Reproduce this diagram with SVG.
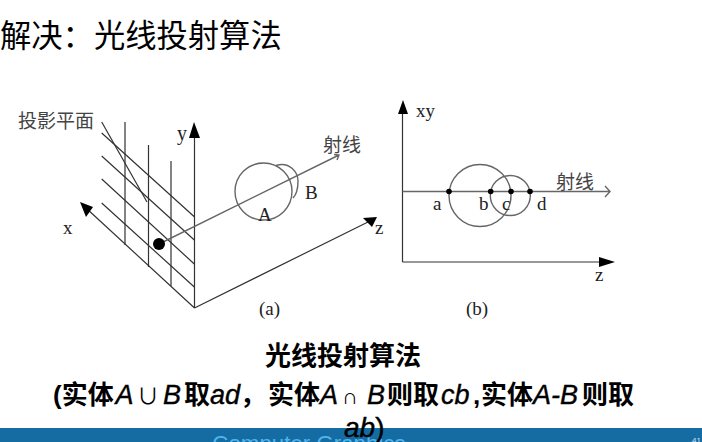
<svg xmlns="http://www.w3.org/2000/svg" width="702" height="442" viewBox="0 0 702 442">
  <style>
    .line { fill: none; stroke: #333; stroke-width: 1.2; }
    .soft { fill: none; stroke: #666; stroke-width: 1.4; }
    .head { fill: #000; stroke: none; }
    .dot { fill: #000; stroke: none; }
    .fig { font-family: "Liberation Serif", "Noto Sans CJK SC", serif; font-size: 19px; fill: #222; }
    .cjk { font-family: "Noto Sans CJK SC", sans-serif; font-size: 19px; fill: #444; }
    .title { font-family: "Noto Sans CJK SC", sans-serif; font-size: 31.300px; fill: #000; }
    .cap { font-family: "Liberation Sans", "Noto Sans CJK SC", sans-serif; font-size: 26px; font-weight: bold; fill: #000; }
    .math { font-size: 27px; font-style: italic; font-weight: normal; stroke: #000; stroke-width: 0.4; }
    .op { font-size: 22px; font-weight: normal; }
  </style>

  <rect width="702" height="442" fill="#fff"/>

  <text id="heading" class="title" x="0" y="47">解决：光线投射算法</text>

  <g id="figure-a-connectors">
    <!-- projection plane hatching -->
    <path class="line" d="M101.7 133L194.3 216.7M101.7 156L194.3 240M101.7 179L194.3 264M101.7 203L194.3 287"/>
    <path class="line" d="M125 122V245M148.5 145V267M171 161V286"/>
    <path class="line" d="M101.7 122L147 202"/>
    <!-- axes -->
    <path class="line" d="M194.5 308V130M194.5 308L86 208M194.5 308L368 222"/>
    <polygon class="head" points="194,122 189,138 200,138"/>
    <polygon class="head" points="80,202 93,207 86,217"/>
    <polygon class="head" points="377,217 363,218 372,227"/>
    <!-- ray -->
    <path class="soft" d="M159 244L339 155M334 154.500L339 155L337 160"/>
  </g>

  <g id="solid-a">
    <circle class="soft" cx="263.500" cy="191.500" r="28.500"/>
    <path class="soft" d="M276 165.500C290 161 298 173 298 181C298 188 296 195 293 198"/>
  </g>
  <g id="source-point"><circle class="dot" cx="159" cy="244" r="6"/></g>

  <g id="labels-a">
    <text class="cjk" x="18" y="128">投影平面</text>
    <text class="cjk" x="323" y="152">射线</text>
    <text class="fig" x="177" y="140" style="font-size:20px">y</text>
    <text class="fig" x="63" y="234">x</text>
    <text class="fig" x="375" y="234">z</text>
    <text class="fig" x="305" y="199">B</text>
    <text class="fig" x="258" y="221">A</text>
    <text class="fig" x="259" y="315">(a)</text>
  </g>

  <g id="figure-b-connectors">
    <path class="line" d="M402.500 262V110M402.500 262H602"/>
    <polygon class="head" points="403,100 398,114 408,114"/>
    <polygon class="head" points="615,262 599,257 599,267"/>
    <path class="soft" d="M402.500 191.500H610M605 186L610 191.500L605 197"/>
  </g>

  <g id="solid-b">
    <circle class="soft" cx="480" cy="195.500" r="31"/>
    <circle class="soft" cx="510.300" cy="195.500" r="20"/>
  </g>
  <g id="hit-points">
    <circle class="dot" cx="449" cy="191.500" r="2.800"/>
    <circle class="dot" cx="490.700" cy="191.500" r="2.800"/>
    <circle class="dot" cx="511" cy="191.500" r="2.800"/>
    <circle class="dot" cx="530" cy="191.500" r="2.800"/>
  </g>

  <g id="labels-b">
    <text class="fig" x="416" y="117">xy</text>
    <text class="cjk" x="556" y="189">射线</text>
    <text class="fig" x="433" y="210">a</text>
    <text class="fig" x="479" y="210">b</text>
    <text class="fig" x="502" y="210">c</text>
    <text class="fig" x="537" y="210">d</text>
    <text class="fig" x="595" y="281">z</text>
    <text class="fig" x="466" y="315">(b)</text>
  </g>

  <g id="footer">
    <rect x="0" y="428" width="702" height="14" fill="#156ca3"/>
    <text x="309" y="451" text-anchor="middle" font-family="Liberation Sans, sans-serif" font-size="22.300" fill="#4fb4ee">Computer Graphics</text>
    <text x="692" y="443" font-family="Liberation Sans, sans-serif" font-size="8" fill="#cfe3f0">41</text>
  </g>

  <g id="caption">
    <text class="cap" x="343" y="365" text-anchor="middle">光线投射算法</text>
    <text class="cap" y="404"><tspan x="53">(实体</tspan><tspan class="math" x="115.500">A</tspan><tspan class="op" x="137">∪</tspan><tspan class="math" x="163">B</tspan><tspan x="184">取</tspan><tspan class="math" x="210">ad</tspan><tspan x="240">，</tspan><tspan x="268">实体</tspan><tspan class="math" x="320">A</tspan><tspan class="op" x="342">∩</tspan><tspan class="math" x="367">B</tspan><tspan x="387">则取</tspan><tspan class="math" x="441">cb</tspan><tspan x="473">,</tspan><tspan x="481">实体</tspan><tspan class="math" x="533">A-B</tspan><tspan x="582">则取</tspan></text>
    <text class="cap math" x="344" y="437" style="font-size:28px">ab<tspan font-style="normal">)</tspan></text>
  </g>
</svg>
